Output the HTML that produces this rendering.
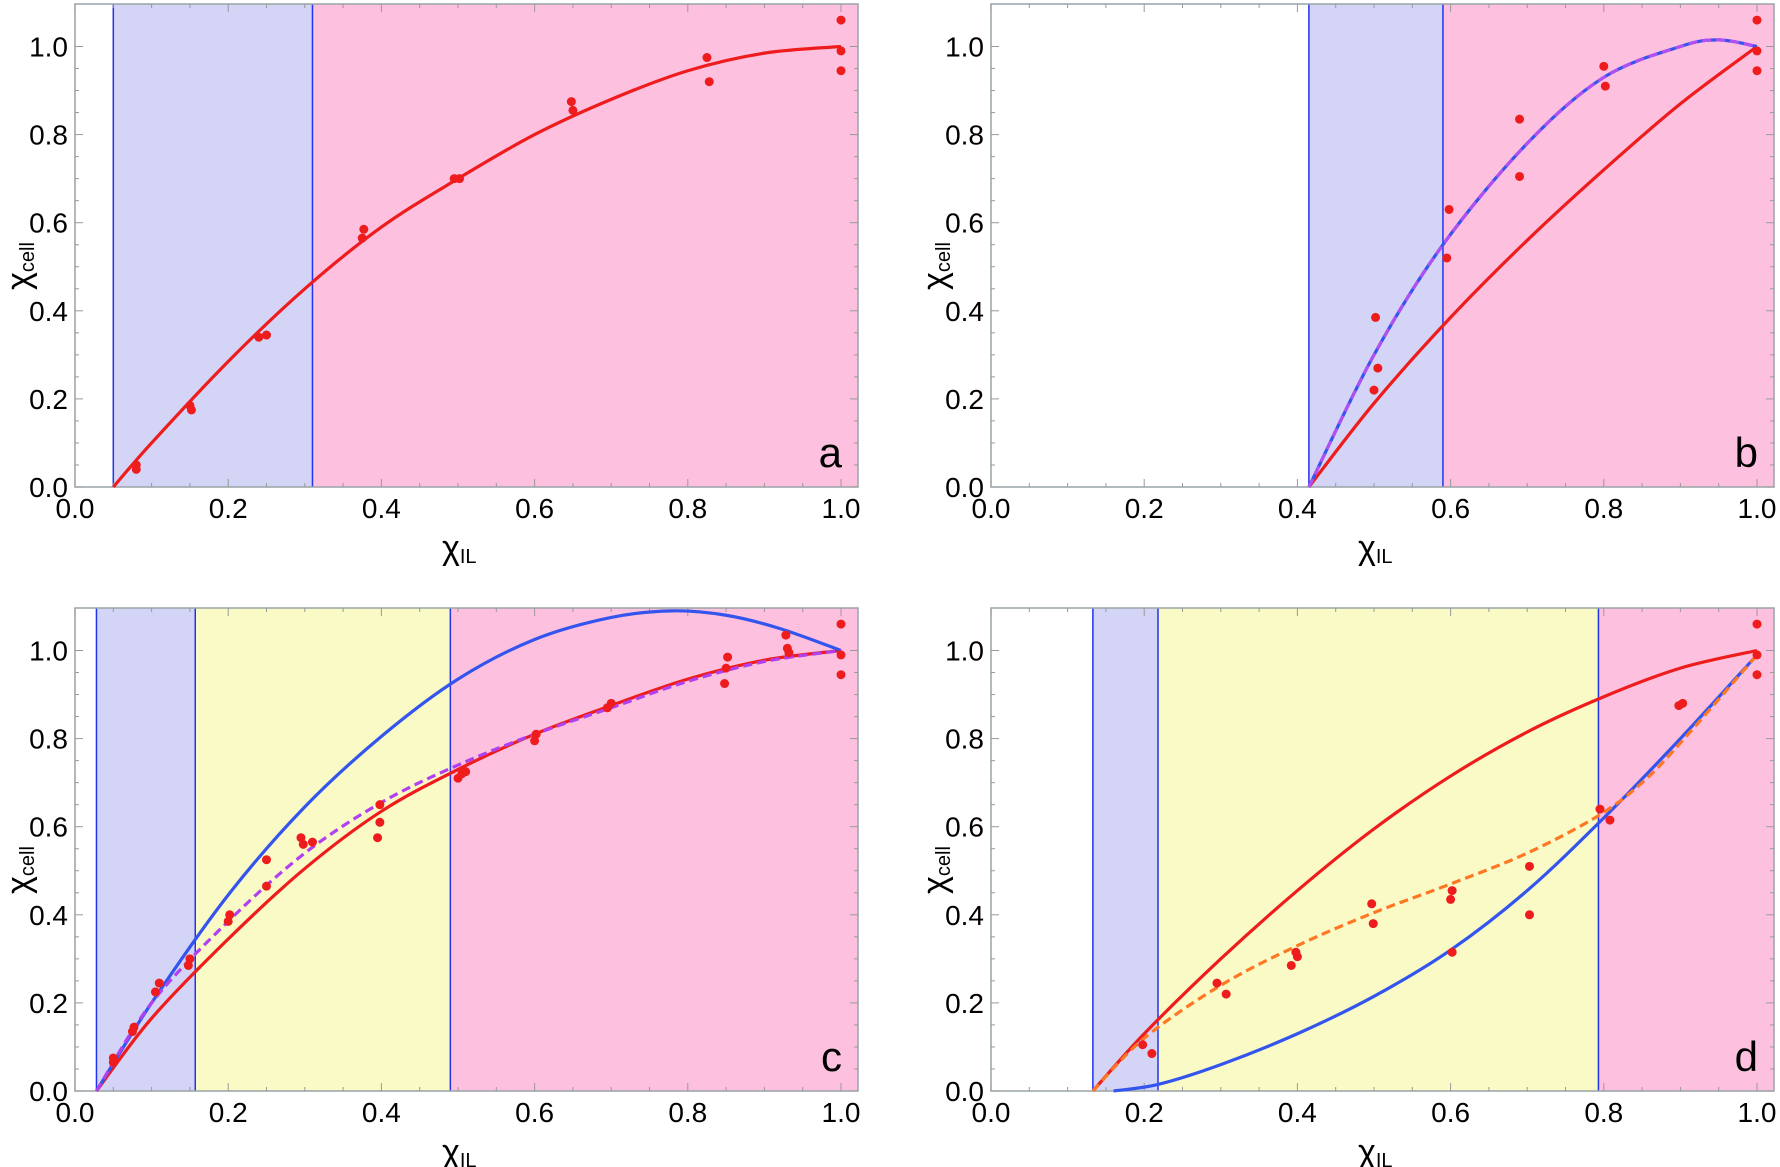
<!DOCTYPE html>
<html><head><meta charset="utf-8"><style>
html,body{margin:0;padding:0;background:#fff;}
svg{display:block;font-family:"Liberation Sans",sans-serif;}
</style></head><body>
<svg id="fig" width="1780" height="1167" viewBox="0 0 1780 1167" xmlns="http://www.w3.org/2000/svg"></svg>
<script>
// ---- Panel a data ----
const aRegions = [[0.05,0.31,'blue'],[0.31,1.03,'pink']];
const aRedX = [0.05,0.1,0.2,0.3,0.4,0.5,0.6,0.7,0.8,0.9,1.0];
const aRedY = [0,0.1,0.285,0.45,0.59,0.70,0.80,0.88,0.945,0.985,1.0];
const aPtsX = [0.08,0.08,0.15,0.152,0.24,0.25,0.375,0.377,0.495,0.502,0.648,0.65,0.825,0.828,1,1,1];
const aPtsY = [0.04,0.05,0.185,0.175,0.34,0.345,0.565,0.585,0.70,0.70,0.875,0.855,0.975,0.92,1.06,0.99,0.945];
// ---- Panel b data ----
const bRegions = [[0.415,0.59,'blue'],[0.59,1.03,'pink']];
const bRedX = [0.415,0.5,0.6,0.7,0.8,0.9,1.0];
const bRedY = [0,0.19,0.385,0.56,0.72,0.87,1.0];
const bBlueX = [0.415,0.5,0.59,0.7,0.8,0.9,0.95,1.0];
const bBlueY = [0,0.3,0.55,0.78,0.93,1.0,1.015,1.0];
const bPtsX = [0.5,0.502,0.505,0.595,0.598,0.69,0.69,0.8,0.802,1,1,1];
const bPtsY = [0.22,0.385,0.27,0.52,0.63,0.835,0.705,0.955,0.91,1.06,0.99,0.945];
// ---- Panel c data ----
const cRegions = [[0.028,0.157,'blue'],[0.157,0.49,'yellow'],[0.49,1.03,'pink']];
const cRedX = [0.028,0.1,0.2,0.3,0.4,0.5,0.6,0.7,0.8,0.9,1.0];
const cRedY = [0,0.165,0.345,0.505,0.635,0.73,0.81,0.875,0.935,0.978,1.0];
const cBlueX = [0.028,0.1,0.2,0.3,0.4,0.5,0.6,0.7,0.78,0.85,0.92,1.0];
const cBlueY = [0,0.2,0.445,0.645,0.805,0.935,1.025,1.075,1.09,1.08,1.05,1.0];
const cDashX = [0.028,0.1,0.2,0.3,0.4,0.5,0.6,0.7,0.8,0.9,1.0];
const cDashY = [0,0.2,0.385,0.54,0.655,0.74,0.81,0.87,0.93,0.975,1.0];
const cPtsX = [0.05,0.05,0.075,0.077,0.105,0.11,0.148,0.15,0.2,0.202,0.25,0.25,0.295,0.298,0.31,0.395,0.398,0.398,0.5,0.505,0.51,0.6,0.602,0.695,0.7,0.848,0.85,0.852,0.928,0.93,0.932,1,1,1];
const cPtsY = [0.075,0.065,0.135,0.145,0.225,0.245,0.285,0.3,0.385,0.4,0.465,0.525,0.575,0.56,0.565,0.575,0.61,0.65,0.71,0.72,0.725,0.795,0.81,0.87,0.88,0.925,0.96,0.985,1.035,1.005,0.995,1.06,0.99,0.945];
// ---- Panel d data ----
const dRegions = [[0.133,0.218,'blue'],[0.218,0.793,'yellow'],[0.793,1.03,'pink']];
const dRedX = [0.133,0.2,0.3,0.4,0.5,0.6,0.7,0.8,0.9,1.0];
const dRedY = [0,0.13,0.3,0.455,0.595,0.715,0.815,0.895,0.96,1.0];
const dBlueX = [0.16,0.218,0.3,0.4,0.5,0.6,0.7,0.8,0.9,1.0];
const dBlueY = [0,0.015,0.06,0.13,0.215,0.32,0.455,0.62,0.8,0.99];
const dDashX = [0.133,0.2,0.3,0.4,0.5,0.6,0.7,0.793,0.85,0.9,1.0];
const dDashY = [0,0.12,0.24,0.33,0.405,0.47,0.54,0.625,0.7,0.79,0.99];
const dPtsX = [0.198,0.21,0.295,0.307,0.392,0.398,0.4,0.497,0.499,0.6,0.602,0.602,0.703,0.703,0.795,0.808,0.898,0.903,1,1,1];
const dPtsY = [0.105,0.085,0.245,0.22,0.285,0.315,0.305,0.425,0.38,0.435,0.455,0.315,0.51,0.4,0.64,0.615,0.875,0.88,1.06,0.99,0.945];
const tickLabels = ['0.0','0.2','0.4','0.6','0.8','1.0'];
const tickVals = [0,0.2,0.4,0.6,0.8,1.0];

const NS='http://www.w3.org/2000/svg';
const svg=document.getElementById('fig');
const FILL={blue:'#d4d4f6',pink:'#fdc1df',yellow:'#fafac6'};
function mk(tag,attrs,parent){const e=document.createElementNS(NS,tag);for(const k in attrs)e.setAttribute(k,attrs[k]);(parent||svg).appendChild(e);return e;}
function smooth(pts){
  let d='M'+pts[0][0]+','+pts[0][1];
  for(let i=0;i<pts.length-1;i++){
    const p0=pts[i-1]||pts[i],p1=pts[i],p2=pts[i+1],p3=pts[i+2]||p2;
    const c1=[p1[0]+(p2[0]-p0[0])/6,p1[1]+(p2[1]-p0[1])/6];
    const c2=[p2[0]-(p3[0]-p1[0])/6,p2[1]-(p3[1]-p1[1])/6];
    d+=' C'+c1[0]+','+c1[1]+' '+c2[0]+','+c2[1]+' '+p2[0]+','+p2[1];
  }
  return d;
}
function panel(id,left,y0,regions,lines,px,py,letter){
  const unit=766, yunit=440.5, right=left+783, top=y0-483;
  const X=v=>left+v*unit, Y=v=>y0-v*yunit;
  const g=mk('g',{});
  
  
  regions.forEach(r=>{
    const rr=mk('rect',{x:X(r[0]),y:top,width:Math.min(X(r[1]),right)-X(r[0]),height:y0-top,fill:FILL[r[2]]},g);
    
    
  });
  regions.forEach(r=>{
    const l=mk('line',{x1:X(r[0]),x2:X(r[0]),y1:top,y2:y0,stroke:'#2233ee','stroke-width':1.5},g);
    
    
  });
  const fr=mk('rect',{x:left,y:top,width:right-left,height:y0-top,fill:'none',stroke:'#9aa4a8','stroke-width':1.5},g);
  
  
  for(let i=0;i<=20;i++){const v=i*0.05;const len=(i%4==0)?8:4;
    if(X(v)<=right){mk('line',{x1:X(v),x2:X(v),y1:y0,y2:y0-len,stroke:'#999','stroke-width':1},g);mk('line',{x1:X(v),x2:X(v),y1:top,y2:top+len,stroke:'#999','stroke-width':1},g);}
    if(Y(v)>=top){mk('line',{x1:left,x2:left+len,y1:Y(v),y2:Y(v),stroke:'#999','stroke-width':1},g);mk('line',{x1:right,x2:right-len,y1:Y(v),y2:Y(v),stroke:'#999','stroke-width':1},g);}
  }
  tickVals.forEach((v,i)=>{
    const t=mk('text',{x:X(v),y:y0+31,'text-anchor':'middle','font-size':28},g);t.textContent=tickLabels[i];
    
    
    const u=mk('text',{x:left-7,y:Y(v)+10,'text-anchor':'end','font-size':28},g);u.textContent=tickLabels[i];
    
    
  });
  lines.forEach(L=>{
    const pts=L.x.map((v,i)=>[X(v),Y(L.y[i])]);
    const p=mk('path',{d:smooth(pts),fill:'none',stroke:L.c,'stroke-width':3.2},g);
    if(L.dash)p.setAttribute('stroke-dasharray','9,5');
    
    
  });
  px.forEach((v,i)=>{
    const c=mk('circle',{cx:X(v),cy:Y(py[i]),r:4.5,fill:'#ee1c1c'},g);
    
    
  });
  const lt=mk('text',{x:right-16,y:y0-20,'text-anchor':'end','font-size':42},g);lt.textContent=letter;
  
  
  const xt=mk('text',{x:X(0.5)-16,y:y0+72,'font-size':34},g);
  xt.innerHTML='χ<tspan font-size="20" dy="4">IL</tspan>';
  
  
  const yt=mk('text',{x:0,y:0,'font-size':34,transform:'translate('+(left-45)+','+(Y(0.47)+10)+') rotate(-90)'},g);
  yt.innerHTML='χ<tspan font-size="20" dy="4">cell</tspan>';
  
  
}
panel('a',75,487,aRegions,[{x:aRedX,y:aRedY,c:'#ee1c1c',name:'red-curve'}],aPtsX,aPtsY,'a');
panel('b',991,487,bRegions,[{x:bRedX,y:bRedY,c:'#ee1c1c',name:'red-curve'},{x:bBlueX,y:bBlueY,c:'#3355ee',name:'blue-curve'},{x:bBlueX,y:bBlueY,c:'#b050f0',dash:1,name:'purple-dashed-curve'}],bPtsX,bPtsY,'b');
panel('c',75,1091,cRegions,[{x:cRedX,y:cRedY,c:'#ee1c1c',name:'red-curve'},{x:cBlueX,y:cBlueY,c:'#3355ee',name:'blue-curve'},{x:cDashX,y:cDashY,c:'#b040f0',dash:1,name:'purple-dashed-curve'}],cPtsX,cPtsY,'c');
panel('d',991,1091,dRegions,[{x:dRedX,y:dRedY,c:'#ee1c1c',name:'red-curve'},{x:dBlueX,y:dBlueY,c:'#3355ee',name:'blue-curve'},{x:dDashX,y:dDashY,c:'#ff7722',dash:1,name:'orange-dashed-curve'}],dPtsX,dPtsY,'d');
</script>
</body></html>
